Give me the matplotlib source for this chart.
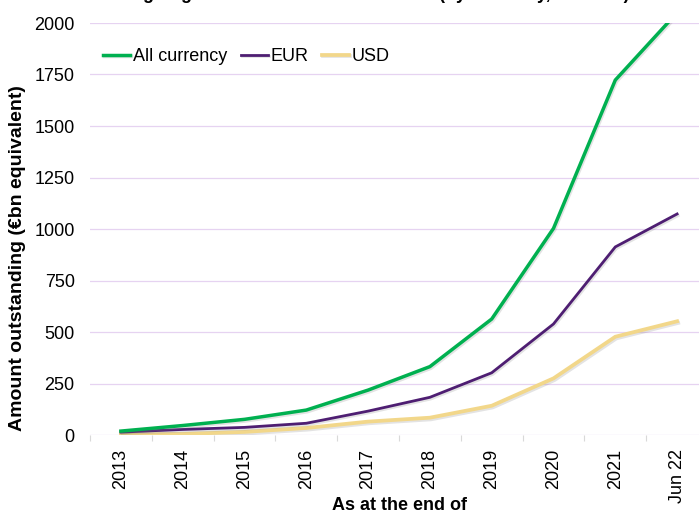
import matplotlib
matplotlib.use("Agg")
import matplotlib.pyplot as plt
import matplotlib.patheffects as pe
import numpy as np

plt.rcParams['font.family'] = ['Liberation Sans', 'DejaVu Sans']

# Outstanding amounts, EUR bn equivalent, at year end
periods = ["2013", "2014", "2015", "2016", "2017", "2018", "2019", "2020", "2021", "Jun 22"]
all_currency = [19, 46, 76, 121, 218, 332, 563, 1003, 1723, 2050]
eur = [14, 27, 37, 57, 116, 183, 302, 539, 913, 1073]
usd = [3, 5, 15, 34, 65, 84, 142, 275, 477, 552]

series_names = ["All currency", "EUR", "USD"]
series_colors = ["#00B050", "#4E1E72", "#F2D78A"]
series_widths = [2.5, 2.0, 2.7]

W, H = 699, 511
fig = plt.figure(figsize=(W / 100, H / 100), dpi=100)
ax = fig.add_axes([90 / W, 76 / H, 618 / W, 412 / H])

x = np.arange(len(periods))
shadow = [pe.SimpleLineShadow(offset=(0.8, -1.2), shadow_color='grey', alpha=0.22), pe.Normal()]

for vals, name, col, lw, z in zip([all_currency, eur, usd], series_names,
                                  series_colors, series_widths, [5, 4, 3]):
    ax.plot(x, vals, color=col, lw=lw, label=name, zorder=z,
            solid_joinstyle='miter', path_effects=shadow)

ax.set_xlim(-0.5, len(periods) - 0.5)
ax.set_ylim(0, 2000)
ax.set_yticks(np.arange(0, 2001, 250))
ax.yaxis.grid(True, color='#E6D3F1', lw=0.9)
ax.set_axisbelow(True)

for s in ax.spines.values():
    s.set_visible(False)

ax.set_xticks(x)
ax.set_xticklabels(periods, rotation=90, fontsize=13)
ax.set_xticks(np.arange(-0.5, len(periods), 1), minor=True)
ax.tick_params(axis='x', which='major', length=0, pad=10)
ax.tick_params(axis='x', which='minor', length=4, color='#D9D9D9', width=0.8)
ax.tick_params(axis='y', length=0, pad=11, labelsize=13)

ax.legend(loc='upper left', bbox_to_anchor=(103 / W, 1 - 48 / H),
          bbox_transform=fig.transFigure, ncol=3, frameon=False, fontsize=13,
          handlelength=1.5, handletextpad=0.15, columnspacing=0.75,
          borderaxespad=0, borderpad=0)

fig.text(18 / W, 1 - 258 / H, "Amount outstanding (€bn equivalent)", rotation=90,
         fontsize=14, fontweight='bold', ha='center', va='center')
fig.text(399 / W, 1 / H, "As at the end of", fontsize=13, fontweight='bold',
         ha='center', va='baseline')
fig.text(48 / W, 1 + 1 / H, "Outstanding of green bonds issued in the EU (by currency, € billion)",
         fontsize=13, fontweight='bold', ha='left', va='baseline')

fig.savefig("out.png", dpi=100)
